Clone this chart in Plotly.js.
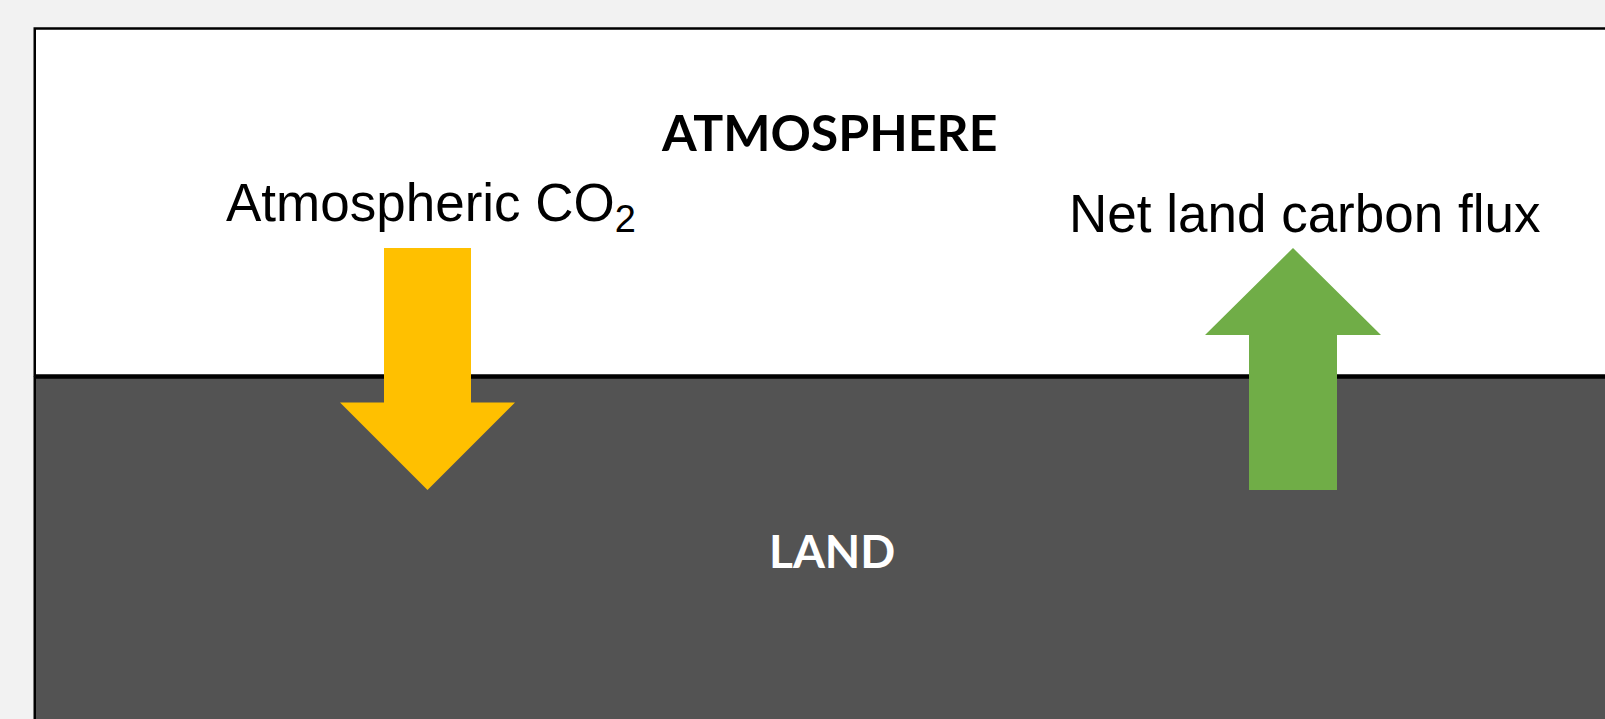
<!DOCTYPE html>
<html>
<head>
<meta charset="utf-8">
<script src="https://cdn.plot.ly/plotly-3.0.1.min.js"></script>
<style>
  html, body { margin: 0; padding: 0; background: #f2f2f2; }
  #chart { width: 1605px; height: 719px; }
</style>
</head>
<body>
<div id="chart"></div>
<script>
// Labels
const regionLabels = ["ATMOSPHERE", "LAND"];
const fluxLabels = ["Atmospheric CO<sub><span style='font-size:38px'>2</span></sub>", "Net land carbon flux"];
const fluxColors = ["#FFC000", "#70AD47"];

// Arrow outlines (diagram coordinates, pixel-like units)
const co2ArrowX = [384, 471, 471, 515, 427.5, 340, 384, 384];
const co2ArrowY = [248, 248, 402.5, 402.5, 490, 402.5, 402.5, 248];
const landArrowX = [1249, 1337, 1337, 1381, 1293, 1205, 1249, 1249];
const landArrowY = [490, 490, 335, 335, 248, 335, 335, 490];

const traces = [
  {
    x: co2ArrowX, y: co2ArrowY, type: "scatter", mode: "lines",
    fill: "toself", fillcolor: fluxColors[0],
    line: { width: 0, color: fluxColors[0] }, hoverinfo: "skip", showlegend: false
  },
  {
    x: landArrowX, y: landArrowY, type: "scatter", mode: "lines",
    fill: "toself", fillcolor: fluxColors[1],
    line: { width: 0, color: fluxColors[1] }, hoverinfo: "skip", showlegend: false
  }
];

const layout = {
  width: 1605, height: 719,
  margin: { l: 0, r: 0, t: 0, b: 0 },
  paper_bgcolor: "#f2f2f2",
  plot_bgcolor: "rgba(0,0,0,0)",
  showlegend: false,
  xaxis: { range: [0, 1605], visible: false, fixedrange: true },
  yaxis: { range: [719, 0], visible: false, fixedrange: true },
  shapes: [
    { type: "rect", layer: "below", xref: "x", yref: "y",
      x0: 34.75, x1: 1620, y0: 28.5, y1: 375.5,
      fillcolor: "#ffffff", line: { color: "#000000", width: 2.5 } },
    { type: "rect", layer: "below", xref: "x", yref: "y",
      x0: 34.75, x1: 1620, y0: 377.5, y1: 740,
      fillcolor: "#535353", line: { color: "#000000", width: 2.5 } },
    { type: "line", layer: "below", xref: "x", yref: "y",
      x0: 34.75, x1: 1620, y0: 376.5, y1: 376.5,
      line: { color: "#000000", width: 3 } }
  ],
  annotations: [
    { x: 829, y: 132, xref: "x", yref: "y", text: "<b>" + regionLabels[0] + "</b>",
      showarrow: false, xanchor: "center", yanchor: "middle",
      font: { family: "Lato, 'Open Sans', sans-serif", size: 50, color: "#000000" } },
    { x: 832, y: 550, xref: "x", yref: "y", text: "<b>" + regionLabels[1] + "</b>",
      showarrow: false, xanchor: "center", yanchor: "middle",
      font: { family: "Lato, 'Open Sans', sans-serif", size: 46, color: "#ffffff" } },
    { x: 431, y: 206, xref: "x", yref: "y", text: fluxLabels[0],
      showarrow: false, xanchor: "center", yanchor: "middle",
      font: { family: "'Liberation Sans', Arial, sans-serif", size: 53, color: "#000000" } },
    { x: 1304, y: 213, xref: "x", yref: "y", text: fluxLabels[1],
      showarrow: false, xanchor: "center", yanchor: "middle",
      font: { family: "'Liberation Sans', Arial, sans-serif", size: 53, color: "#000000" } }
  ]
};

Plotly.newPlot("chart", traces, layout, { displayModeBar: false, staticPlot: true });
</script>
</body>
</html>
